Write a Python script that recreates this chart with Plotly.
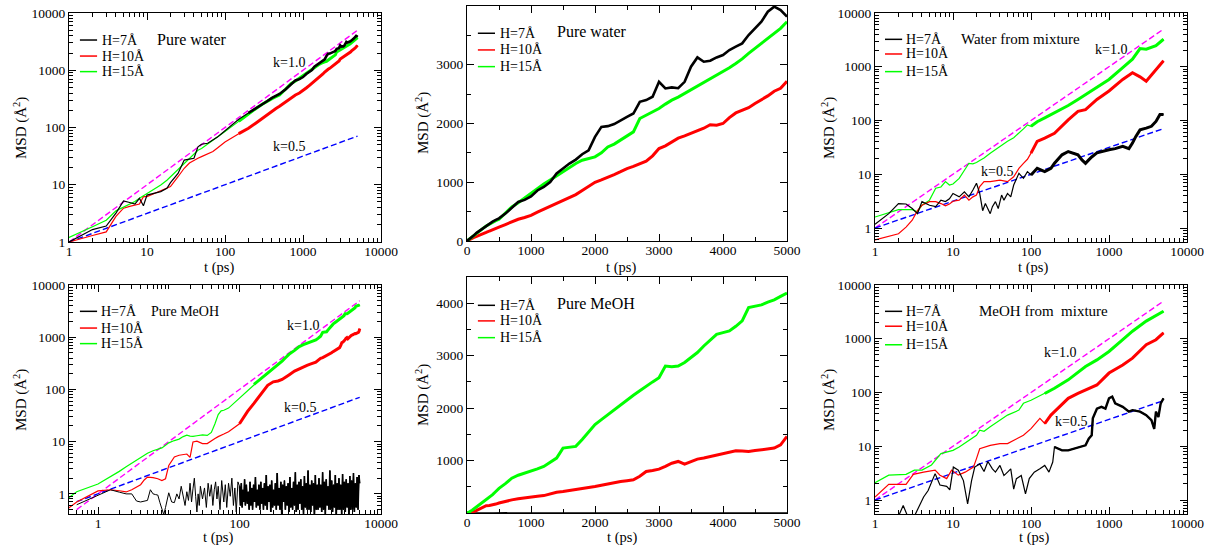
import plotly.graph_objects as go

# ---------------- Pure water: t (ps) and MSD (Å^2) ----------------
T_WATER = [0,
           1, 2, 3, 4, 5, 6, 7, 8, 9, 10,
           12, 15, 18, 20, 25, 30, 35, 40, 45,
           50, 60, 70, 80, 90,
           100, 150, 200, 250, 300, 350, 400, 450, 500,
           600, 700, 800, 900, 1000,
           1100, 1200, 1300, 1400, 1500, 1600, 1700, 1800, 1900, 2000,
           2100, 2200, 2300, 2400, 2500, 2600, 2700, 2800, 2900, 3000,
           3100, 3200, 3300, 3400, 3500, 3600, 3700, 3800, 3900, 4000,
           4100, 4200, 4300, 4400, 4500, 4600, 4700, 4800, 4900, 5000]
WATER_H7 = [0,
            1.0, 1.65, 1.9, 3.2, 5.2, 4.9, 4.6, 5.8, 4.3, 6.6,
            7.0, 7.6, 8.7, 10.9, 15.8, 27, 28, 29, 46,
            51, 53, 60, 68, 78,
            88, 139, 180, 215, 250, 290, 330, 360, 385,
            466, 570, 665, 700, 760,
            860, 920, 1005, 1150, 1233, 1318, 1386, 1477, 1545, 1773,
            1943, 1955, 1990, 2057, 2114, 2170, 2370, 2398, 2455, 2710,
            2597, 2614, 2600, 2710, 2966, 3125, 3051, 3068, 3125, 3165,
            3250, 3307, 3364, 3506, 3619, 3733, 3903, 3989, 3932, 3818]
WATER_H10 = [0,
             1.0, 1.3, 1.5, 2.8, 3.9, 4.2, 4.4, 4.6, 6.2, 6.2,
             6.9, 7.8, 8.5, 9.3, 13.8, 19.4, 24, 27, 29,
             31, 35, 38, 44, 50,
             56, 78, 97, 120, 145, 170, 195, 215, 235,
             280, 330, 370, 400, 437,
             490, 540, 590, 640, 693, 740, 790, 860, 930, 1000,
             1040, 1080, 1130, 1180, 1233, 1270, 1310, 1360, 1450, 1574,
             1620, 1690, 1750, 1790, 1830, 1880, 1920, 1980, 1970, 2000,
             2100, 2180, 2220, 2270, 2341, 2400, 2470, 2550, 2600, 2720]
WATER_H15 = [0,
             1.2, 1.85, 2.4, 3.5, 4.1, 4.6, 5.1, 5.8, 6.4, 7.1,
             8.2, 9.9, 12, 13.8, 18.5, 23.7, 29, 35, 40,
             43, 51, 60, 68, 77,
             85, 128, 175, 215, 255, 290, 320, 345, 370,
             470, 580, 650, 730, 815,
             900, 970, 1040, 1110, 1190, 1260, 1320, 1375, 1400, 1432,
             1500, 1600, 1650, 1716, 1780, 1858, 2085, 2142, 2200, 2256,
             2330, 2398, 2450, 2511, 2570, 2636, 2700, 2767, 2820, 2880,
             2950, 3023, 3100, 3193, 3280, 3364, 3440, 3534, 3620, 3733]

# ---------------- Pure MeOH ----------------
T_MEOH = [0,
          0.5, 1, 1.5, 2, 2.5, 3, 3.5, 4, 4.5, 5,
          6, 7, 8, 9, 10,
          12, 14, 16, 18, 20,
          22, 25, 30, 35, 40,
          45, 50, 55, 60, 70,
          80, 100, 130, 160, 200,
          250, 300, 350, 400, 450,
          500,
          600, 700, 800, 900, 1000,
          1100, 1200, 1300, 1400, 1500, 1600, 1700, 1800, 1900, 2000,
          2100, 2200, 2300, 2400, 2500, 2600, 2700, 2800, 2900, 3000,
          3100, 3200, 3300, 3400, 3500, 3600, 3700, 3800, 3900, 4000,
          4100, 4200, 4300, 4400, 4500, 4600, 4700, 4800, 4900, 5000]
MEOH_H10 = [0,
            0.7, 1.14, 1.2, 1.15, 1.09, 1.2, 1.35, 1.5, 1.85, 2.1,
            2.05, 1.95, 1.8, 1.95, 3.5,
            5.1, 5.5, 5.6, 5.8, 5.0,
            9.9, 10.2, 9.2, 9.2, 10.5,
            11.5, 12.5, 13.5, 14, 15.5,
            17.5, 22, 38, 54, 80,
            120, 140, 145, 155, 170,
            190,
            225, 250, 270, 290, 306,
            320, 332, 365, 396, 408, 425, 440, 460, 480, 504,
            530, 555, 580, 600, 615, 632, 700, 791, 810, 836,
            890, 950, 983, 932, 980, 1027, 1050, 1078, 1100, 1123,
            1160, 1187, 1180, 1174, 1190, 1206, 1220, 1238, 1300, 1461]
MEOH_H15 = [0,
            1.1, 1.55, 2.1, 2.7, 3.3, 3.9, 4.4, 5.0, 5.5, 6.0,
            6.7, 7.2, 7.6, 8.5, 9.5,
            10.5, 11.2, 12.5, 13.3, 12.8,
            12.6, 13.0, 13.5, 13.2, 15,
            22, 33, 39, 40, 44,
            52, 70, 97, 125, 160,
            200, 250, 300, 350, 410,
            470,
            560, 664, 720, 760, 791,
            840, 887, 960, 1047, 1238, 1250, 1270, 1400, 1550, 1685,
            1780, 1876, 1970, 2068, 2150, 2246, 2330, 2419, 2500, 2578,
            2801, 2790, 2801, 2870, 2961, 3060, 3185, 3300, 3408, 3440,
            3472, 3560, 3663, 3918, 3940, 3969, 4020, 4065, 4130, 4193]
T_MEOH_H7 = [0.5, 1, 1.5, 2, 2.5, 3, 3.5, 4, 4.5, 5,
             5.5, 6, 6.5, 7, 7.5, 8, 8.5, 9, 9.5, 10,
             11, 12, 13, 14, 15, 16, 17, 18, 19, 20,
             21, 22, 23, 24, 25, 26, 27, 28, 30, 32,
             34, 36, 38, 40, 42, 44, 46, 48, 50, 53,
             56, 60, 63, 66, 70, 74, 78, 82, 86, 90,
             95,
             100, 103, 106, 109, 112, 115, 118, 121, 125, 129,
             133, 137, 141, 145, 149, 153, 158, 163, 168, 173,
             178, 183, 188, 194, 200, 206, 212, 218, 225, 232,
             239, 246, 253, 261, 269, 277, 285, 294, 303, 312,
             321, 331, 341, 351, 362, 373, 384, 395, 407, 419,
             432, 445, 458, 472, 486, 501, 516, 531, 547, 563,
             580, 598, 616, 634, 653, 673, 693, 714, 735, 757,
             780, 803, 827, 852, 878, 904, 931, 959, 988, 1018,
             1048, 1080, 1112, 1145, 1180, 1215, 1252, 1289, 1328, 1368,
             1409, 1451, 1495, 1540, 1586, 1633, 1682, 1733, 1785, 1838,
             1893, 1950, 2009, 2069, 2131, 2195, 2261, 2329, 2399, 2471,
             2545, 2621, 2700, 2781, 2864, 2950, 3039, 3130, 3224, 3321,
             3420, 3523, 3628, 3737, 3849, 3965, 4084, 4206, 4333, 4463,
             4597, 4735, 4877, 5000]
MEOH_H7 = [0.62, 0.95, 1.2, 1.08, 1.0, 1.0, 0.73, 0.7, 0.72, 0.75,
           1.2, 1.0, 0.97, 0.95, 0.68, 0.5, 0.4, 0.55, 0.75, 1.05,
           0.7, 0.68, 1.0, 0.8, 1.4, 0.9, 0.6, 1.1, 0.75, 1.6,
           0.7, 1.25, 2.0, 0.9, 0.45, 1.0, 0.6, 1.4, 0.8, 1.3,
           0.55, 1.6, 0.9, 1.5, 0.6, 1.2, 1.7, 0.8, 1.4, 0.5,
           1.8, 0.7, 1.5, 0.55, 1.6, 0.9, 2.0, 0.6, 1.3, 0.45,
           1.7,
           1.4, 0.6, 1.6, 0.55, 1.2, 0.7, 1.9, 0.6, 1.5, 0.65,
           1.1, 0.5, 1.7, 0.6, 1.3, 0.5, 1.5, 0.7, 2.1, 0.55,
           1.2, 0.6, 1.5, 0.5, 1.7, 0.65, 1.3, 0.5, 1.6, 0.6,
           2.3, 0.5, 1.4, 0.7, 1.5, 0.45, 1.8, 0.55, 1.2, 0.6,
           1.6, 0.5, 2.5, 0.6, 1.3, 0.5, 1.7, 0.4, 1.5, 0.7,
           1.8, 0.5, 1.4, 0.6, 1.6, 0.45, 2.1, 0.55, 1.3, 0.5,
           1.7, 0.6, 2.6, 0.45, 1.5, 0.5, 1.7, 0.65, 1.9, 0.5,
           1.4, 0.4, 2.2, 0.55, 1.6, 0.5, 2.8, 0.5, 1.5, 0.45,
           1.8, 0.6, 1.6, 0.35, 2.3, 0.5, 1.5, 0.5, 2.0, 0.55,
           1.5, 0.45, 2.6, 0.5, 1.7, 0.4, 1.9, 0.6, 1.4, 0.5,
           2.8, 0.5, 1.8, 0.45, 1.5, 0.55, 2.3, 0.35, 1.6, 0.5,
           2.0, 0.5, 1.5, 0.4, 2.4, 0.5, 1.7, 0.45, 1.9, 0.55,
           1.6, 0.35, 2.2, 0.5, 1.8, 0.5, 2.5, 0.45, 1.6, 0.55,
           2.1, 0.5, 2.3, 1.6]

# ---------------- Water from mixture ----------------
T_MIXW = [1, 2, 2.5, 3, 3.5, 4, 5, 6, 7, 8,
          9, 10, 12, 14, 16, 18, 20, 22, 25, 30,
          40, 50, 60, 70, 80, 90, 100, 120, 150, 200,
          300, 400, 500, 700, 1000, 1500, 2000, 2500, 3000, 4000,
          5000]
MIXW_H15 = [1.6, 2.2, 2.2, 2.2, 2.0, 2.65, 3.3, 5.5, 5.8, 7.3,
            6.3, 6.6, 8.4, 12, 16, 15.6, 16.5, 18, 20, 24.6,
            33, 41, 48, 58, 70, 83, 78, 95, 112, 138,
            190, 246, 305, 425, 580, 960, 1380, 2180, 2120, 2460,
            3250]
MIXW_H10 = [0.6, 0.78, 1.04, 1.4, 2.1, 2.65, 3.1, 3.1, 2.85, 2.6,
            2.8, 3.15, 3.3, 4.1, 3.3, 3.8, 4.1, 5.9, 7.3, 7.3,
            7.8, 7.3, 9, 12.9, 16, 19, 24.7, 41, 47, 58,
            103, 148, 159, 246, 354, 580, 775, 650, 540, 890,
            1290]
T_MIXW_H7 = [1, 1.5, 2, 2.5, 3, 3.5, 4, 5, 6, 7,
             8, 9, 10, 12, 14, 16, 18, 20, 22, 24,
             26, 28, 30, 32, 35, 38, 42, 45, 50, 55,
             60, 70, 80, 90, 100, 120, 150, 180, 200, 250,
             300, 350, 400, 450, 500, 550, 600, 700, 800, 1000,
             1200, 1500, 1800, 2000, 2200, 2500, 3000, 3500, 4000, 4500,
             5000]
MIXW_H7 = [1.17, 1.85, 2.85, 2.8, 2.3, 1.85, 3.1, 2.65, 2.5, 3.3,
           3.1, 3.5, 4.4, 3.8, 4.7, 3.8, 5.1, 6.8, 4.4, 2.1,
           2.85, 2.3, 1.85, 2.5, 3.1, 2.3, 4.1, 3.3, 4.4, 3.8,
           6.3, 10.4, 8.4, 11.2, 9.7, 12.9, 11.2, 12.9, 16, 23,
           26.5, 25, 23, 18.5, 16, 18.5, 21, 25, 26.5, 28.5,
           30, 33, 30, 38, 50, 67, 72, 78, 96, 130,
           130]

# ---------------- MeOH from mixture ----------------
T_MIXM_H15 = [1, 1.5, 2.5, 3.2, 4, 5.3, 7, 10, 12, 15,
              20, 22, 25, 30, 40, 50, 70, 80, 100, 150,
              200, 300, 500, 700, 1000, 1500, 2000, 3000, 4000, 5000]
MIXM_H15 = [2.1, 2.9, 3.0, 3.6, 3.6, 4.5, 7.3, 8.4, 9.7, 12,
            16, 20, 19, 23, 30.5, 38, 47, 63, 72, 96,
            120, 172, 305, 405, 580, 960, 1380, 2130, 2650, 3250]
T_MIXM_H10 = [1, 1.5, 2.5, 3.1, 4.2, 5.9, 6.8, 8.3, 9.6, 11.7,
              14.3, 18.3, 20, 22, 30, 40, 50, 60, 80, 100,
              130, 150, 180, 200, 300, 400, 500, 700, 1000, 1500,
              2000, 3000, 4000, 5000]
MIXM_H10 = [1.14, 1.96, 1.96, 3.0, 3.3, 3.6, 2.9, 2.5, 3.6, 2.9,
            3.3, 4.1, 5.9, 9, 10.4, 11.2, 11.2, 12.9, 16, 21.3,
            33, 26.5, 38, 44, 78, 96, 111, 138, 230, 325,
            435, 775, 960, 1290]
T_MIXM_H7 = [1, 1.5, 2, 2.3, 2.7, 3.0, 3.3, 4.2, 4.8, 5.9,
             6.8, 8.3, 9.1, 10.1, 11.7, 13.6, 15.4, 17.3, 19, 22,
             25, 28, 32, 35, 40, 45, 50, 55, 60, 65,
             75, 85, 95, 110, 130, 150, 170, 190, 200, 250,
             300, 350, 400, 500, 550, 600, 620, 700, 800, 900,
             1000, 1100, 1200, 1500, 1800, 2000, 2500, 3000, 3500, 3800,
             4000, 4300, 4600, 5000]
MIXM_H7 = [0.3, 0.35, 0.5, 0.79, 0.45, 0.4, 0.55, 1.14, 1.5, 3.1,
           1.9, 1.8, 1.55, 4.1, 3.6, 2.3, 0.85, 2.3, 4.1, 4.7,
           3.4, 5.2, 3.8, 3.3, 4.4, 2.85, 3.3, 3.8, 1.6, 2.5,
           2.85, 1.3, 2.5, 3.3, 3.8, 4.4, 3.3, 5.1, 9.7, 8.4,
           8.4, 9, 9.7, 10.4, 13.8, 16, 33, 50, 54, 50,
           78, 84, 63, 54, 44, 47, 44, 38, 30.5, 21,
           44, 35, 63, 78]

# ---------------- Power-law guides: MSD ~ t^k ----------------
K1_T, K1_V = [1, 5000], [1, 5000]
K05_T, K05_V = [1, 5000], [1, 70.7]
K1_T_M, K1_V_M = [0.5, 5000], [0.5, 5000]
K05_T_M, K05_V_M = [0.5, 5000], [0.71, 70.7]

LEGEND_LABELS = ["H=7Å", "H=10Å", "H=15Å"]
PANEL_TITLES = ["Pure water", "Pure water", "Water from mixture",
                "Pure MeOH", "Pure MeOH", "MeOH from  mixture"]
X_TITLE = "t (ps)"
Y_TITLE = "MSD (Å<sup>2</sup>)"

FONT = "Liberation Serif, Times New Roman, Times, serif"
BLACK, RED, GREEN = "#000000", "#ff0000", "#00ff00"
MAGENTA, BLUE = "#ff00ff", "#0000ff"
SERIES_COLORS = [BLACK, RED, GREEN]
W, H = 1205, 545

# panel frames in pixels: (left, right), (top, bottom)
FRAMES = {1: ((69, 381), (13, 242)), 2: ((467, 787), (6, 241)), 3: ((875, 1187), (13, 242)),
          4: ((69, 381), (285, 514)), 5: ((467, 787), (277, 513)), 6: ((875, 1187), (285, 514))}
# axis-title anchor points in pixels: x-title (cx, cy), y-title (cx, cy)
X_TITLE_AT = {1: (219, 267), 2: (621, 267), 3: (1033, 267),
              4: (218, 537), 5: (622, 537), 6: (1034, 537)}
Y_TITLE_AT = {1: (20, 128), 2: (422, 123), 3: (828, 128),
              4: (20, 400), 5: (422, 395), 6: (828, 400)}

fig = go.Figure()


def ax(n, kind):
    return kind if n == 1 else f"{kind}{n}"


def add_line(n, t, v, color, width, dash=None):
    fig.add_trace(go.Scatter(
        x=t, y=v, mode="lines", xaxis=ax(n, "x"), yaxis=ax(n, "y"),
        line=dict(color=color, width=width, dash=dash),
        showlegend=False, hoverinfo="skip"))


def add_curve(n, t, v, color, thick_from=None, thin=1.2, thick=3.0):
    add_line(n, t, v, color, thin)
    if thick_from is not None:
        tt = [a for a in t if a >= thick_from]
        vv = v[len(t) - len(tt):]
        add_line(n, tt, vv, color, thick)


DASH = "6px,3px"

# panel 1: pure water, log-log
add_line(1, K1_T, K1_V, MAGENTA, 1.4, DASH)
add_line(1, K05_T, K05_V, BLUE, 1.4, DASH)
add_curve(1, T_WATER, WATER_H10, RED, 150)
add_curve(1, T_WATER, WATER_H15, GREEN, 150)
add_curve(1, T_WATER, WATER_H7, BLACK, 200, thick=2.6)

# panel 2: pure water, linear
add_line(2, T_WATER, WATER_H10, RED, 3)
add_line(2, T_WATER, WATER_H15, GREEN, 3)
add_line(2, T_WATER, WATER_H7, BLACK, 2.6)

# panel 3: water from mixture
add_line(3, K1_T, K1_V, MAGENTA, 1.4, DASH)
add_line(3, K05_T, K05_V, BLUE, 1.4, DASH)
add_curve(3, T_MIXW, MIXW_H15, GREEN, 100)
add_curve(3, T_MIXW, MIXW_H10, RED, 100)
add_curve(3, T_MIXW_H7, MIXW_H7, BLACK, 100)

# panel 4: pure MeOH, log-log
add_line(4, K1_T_M, K1_V_M, MAGENTA, 1.4, DASH)
add_line(4, K05_T_M, K05_V_M, BLUE, 1.4, DASH)
add_curve(4, T_MEOH, MEOH_H15, GREEN, 150)
add_curve(4, T_MEOH, MEOH_H10, RED, 100)
add_curve(4, T_MEOH_H7, MEOH_H7, BLACK, 100, thin=1.0, thick=1.6)

# panel 5: pure MeOH, linear
add_line(5, T_MEOH_H7, MEOH_H7, BLACK, 1.5)
add_line(5, T_MEOH, MEOH_H10, RED, 3)
add_line(5, T_MEOH, MEOH_H15, GREEN, 3)

# panel 6: MeOH from mixture
add_line(6, K1_T, K1_V, MAGENTA, 1.4, DASH)
add_line(6, K05_T, K05_V, BLUE, 1.4, DASH)
add_curve(6, T_MIXM_H15, MIXM_H15, GREEN, 150)
add_curve(6, T_MIXM_H10, MIXM_H10, RED, 150)
add_curve(6, T_MIXM_H7, MIXM_H7, BLACK, 200, thick=2.4)

# ---------------- axes ----------------
LOG_MAJOR = [1, 10, 100, 1000, 10000]
LOG_MINOR = [k * 10 ** e for e in range(-1, 4) for k in range(2, 10)]
tickfont = dict(family=FONT, size=13.5, color="black")

common = dict(showline=True, linecolor="black", linewidth=1.3, mirror="ticks",
              ticks="inside", ticklen=7, tickwidth=1, tickcolor="black",
              showgrid=False, zeroline=False, tickfont=tickfont, automargin=False)
minor_common = dict(ticks="inside", ticklen=4, tickwidth=1, tickcolor="black", showgrid=False)

X_RANGES = {1: [0, 4], 2: [0, 5000], 3: [0, 4], 4: [-0.41, 4], 5: [0, 5000], 6: [0, 4]}
Y_RANGES = {1: [0, 4], 2: [0, 4000], 3: [-0.26, 4], 4: [-0.385, 4], 5: [0, 4500], 6: [-0.26, 4]}

layout = {}
for n, ((l, r), (t, b)) in FRAMES.items():
    xa = dict(common, domain=[l / W, r / W], anchor=ax(n, "y"), range=X_RANGES[n],
              ticklabelstandoff=-3)
    ya = dict(common, domain=[1 - b / H, 1 - t / H], anchor=ax(n, "x"), range=Y_RANGES[n])
    if n in (2, 5):
        xa.update(type="linear", tickmode="array", tickvals=[0, 1000, 2000, 3000, 4000, 5000],
                  minor=dict(minor_common, tickmode="array", tickvals=[500, 1500, 2500, 3500, 4500]))
        yv = [0, 1000, 2000, 3000, 4000] if n == 2 else [1000, 2000, 3000, 4000]
        ya.update(type="linear", tickmode="array", tickvals=yv,
                  minor=dict(minor_common, tickmode="array", tickvals=[500, 1500, 2500, 3500, 4500]))
    else:
        if n == 4:
            xv, xminor = [1, 100, 10000], LOG_MINOR + [10, 1000]
        else:
            xv, xminor = LOG_MAJOR, LOG_MINOR
        xa.update(type="log", tickmode="array", tickvals=xv, ticktext=[str(v) for v in xv],
                  minor=dict(minor_common, tickmode="array", tickvals=xminor))
        ya.update(type="log", tickmode="array", tickvals=LOG_MAJOR,
                  ticktext=[str(v) for v in LOG_MAJOR],
                  minor=dict(minor_common, tickmode="array", tickvals=LOG_MINOR))
    layout["xaxis" if n == 1 else f"xaxis{n}"] = xa
    layout["yaxis" if n == 1 else f"yaxis{n}"] = ya

# ---------------- in-panel legends and labels (axis-domain coordinates) ----------------
LEGEND_POS = {1: (0.035, 0.09, 0.099, [0.882, 0.812, 0.744]),
              2: (0.034, 0.0875, 0.096, [0.884, 0.813, 0.742]),
              3: (0.032, 0.087, 0.093, [0.885, 0.821, 0.744]),
              4: (0.035, 0.09, 0.096, [0.885, 0.812, 0.744]),
              5: (0.034, 0.0875, 0.096, [0.880, 0.814, 0.743]),
              6: (0.032, 0.087, 0.093, [0.885, 0.820, 0.739])}
TITLE_POS = {1: (0.394, 0.886, 16), 2: (0.39, 0.89, 16), 3: (0.467, 0.885, 15),
             4: (0.372, 0.885, 14), 5: (0.403, 0.887, 16), 6: (0.539, 0.885, 15)}
K_LABELS = {1: [(0.705, 0.786, "k=1.0"), (0.705, 0.415, "k=0.5")],
            3: [(0.755, 0.841, "k=1.0"), (0.39, 0.307, "k=0.5")],
            4: [(0.751, 0.824, "k=1.0"), (0.74, 0.467, "k=0.5")],
            6: [(0.593, 0.707, "k=1.0"), (0.627, 0.405, "k=0.5")]}


def txt(size):
    return dict(family=FONT, size=size, color="black")


shapes, annotations = [], []
for n in FRAMES:
    xr, yr = ax(n, "x") + " domain", ax(n, "y") + " domain"
    x0, x1, xt, rows = LEGEND_POS[n]
    for label, color, yy in zip(LEGEND_LABELS, SERIES_COLORS, rows):
        shapes.append(dict(type="line", xref=xr, yref=yr, x0=x0, x1=x1, y0=yy, y1=yy,
                           line=dict(color=color, width=1.5)))
        annotations.append(dict(xref=xr, yref=yr, x=xt, y=yy, text=label, showarrow=False,
                                xanchor="left", yanchor="middle", font=txt(14)))
    tx, ty, ts = TITLE_POS[n]
    annotations.append(dict(xref=xr, yref=yr, x=tx, y=ty, text=PANEL_TITLES[n - 1],
                            showarrow=False, xanchor="center", yanchor="middle", font=txt(ts)))
    for kx, ky, ktext in K_LABELS.get(n, []):
        annotations.append(dict(xref=xr, yref=yr, x=kx, y=ky, text=ktext, showarrow=False,
                                xanchor="center", yanchor="middle", font=txt(14)))
    cx, cy = X_TITLE_AT[n]
    annotations.append(dict(xref="paper", yref="paper", x=cx / W, y=1 - cy / H, text=X_TITLE,
                            showarrow=False, xanchor="center", yanchor="middle", font=txt(14.5)))
    cx, cy = Y_TITLE_AT[n]
    annotations.append(dict(xref="paper", yref="paper", x=cx / W, y=1 - cy / H, text=Y_TITLE,
                            showarrow=False, xanchor="center", yanchor="middle",
                            textangle=-90, font=txt(15)))

fig.update_layout(width=W, height=H, margin=dict(l=0, r=0, t=0, b=0),
                  paper_bgcolor="white", plot_bgcolor="white", font=txt(14),
                  showlegend=False, shapes=shapes, annotations=annotations, **layout)

fig.write_html("out.html")
